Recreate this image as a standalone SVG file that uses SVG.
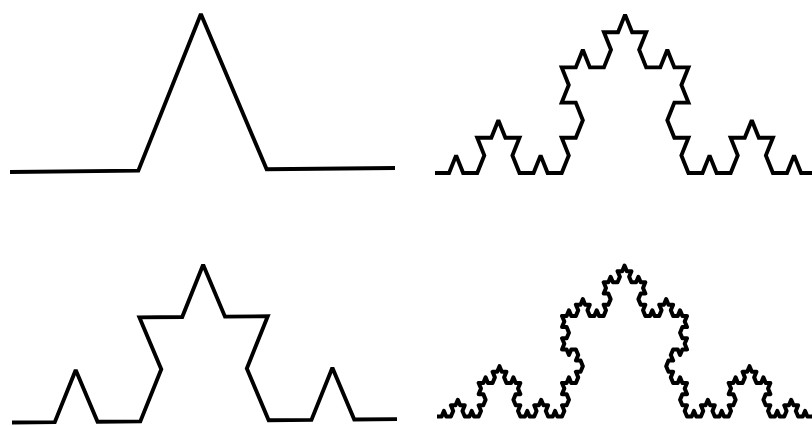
<svg xmlns="http://www.w3.org/2000/svg" width="812" height="426" viewBox="0 0 812 426">
<style>
.k{fill:none;stroke:#000;stroke-width:3.9;stroke-linejoin:miter;stroke-miterlimit:2;stroke-linecap:butt;vector-effect:non-scaling-stroke}
.k4{stroke-width:4;stroke-linejoin:round}
</style>
<rect width="812" height="426" fill="#fff"/>
<g id="koch-level1" transform="translate(10 172) rotate(-0.6) scale(64.17 156)">
<path class="k" d="M0 0 l2 0 1 -1 1 1 2 0"/>
</g>
<g id="koch-level2" transform="translate(12 422.5) rotate(-0.5) scale(21.39 52)">
<path class="k" d="M0 0 l2 0 1 -1 1 1 2 0 1 -1 -1 -1 2 0 1 -1 1 1 2 0 -1 1 1 1 2 0 1 -1 1 1 2 0"/>
</g>
<g id="koch-level3" transform="translate(435 173) scale(7.04 17.6)">
<path class="k" d="M0 0 l2 0 1 -1 1 1 2 0 1 -1 -1 -1 2 0 1 -1 1 1 2 0 -1 1 1 1 2 0 1 -1 1 1 2 0
1 -1 -1 -1 2 0 1 -1 -1 -1 -2 0 1 -1 -1 -1 2 0 1 -1 1 1 2 0 1 -1 -1 -1 2 0 1 -1
1 1 2 0 -1 1 1 1 2 0 1 -1 1 1 2 0 -1 1 1 1 -2 0 -1 1 1 1 2 0 -1 1 1 1
2 0 1 -1 1 1 2 0 1 -1 -1 -1 2 0 1 -1 1 1 2 0 -1 1 1 1 2 0 1 -1 1 1 2 0"/>
</g>
<g id="koch-level4" transform="translate(437 416.5) scale(2.315 5.59)">
<path class="k k4" d="M0 0 l2 0 1 -1 1 1 2 0 1 -1 -1 -1 2 0 1 -1 1 1 2 0 -1 1 1 1 2 0 1 -1 1 1 2 0
1 -1 -1 -1 2 0 1 -1 -1 -1 -2 0 1 -1 -1 -1 2 0 1 -1 1 1 2 0 1 -1 -1 -1 2 0 1 -1
1 1 2 0 -1 1 1 1 2 0 1 -1 1 1 2 0 -1 1 1 1 -2 0 -1 1 1 1 2 0 -1 1 1 1
2 0 1 -1 1 1 2 0 1 -1 -1 -1 2 0 1 -1 1 1 2 0 -1 1 1 1 2 0 1 -1 1 1 2 0
1 -1 -1 -1 2 0 1 -1 -1 -1 -2 0 1 -1 -1 -1 2 0 1 -1 1 1 2 0 1 -1 -1 -1 2 0 1 -1
-1 -1 -2 0 1 -1 -1 -1 -2 0 -1 1 -1 -1 -2 0 1 -1 -1 -1 2 0 1 -1 -1 -1 -2 0 1 -1 -1 -1
2 0 1 -1 1 1 2 0 1 -1 -1 -1 2 0 1 -1 1 1 2 0 -1 1 1 1 2 0 1 -1 1 1 2 0
1 -1 -1 -1 2 0 1 -1 -1 -1 -2 0 1 -1 -1 -1 2 0 1 -1 1 1 2 0 1 -1 -1 -1 2 0 1 -1
1 1 2 0 -1 1 1 1 2 0 1 -1 1 1 2 0 -1 1 1 1 -2 0 -1 1 1 1 2 0 -1 1 1 1
2 0 1 -1 1 1 2 0 1 -1 -1 -1 2 0 1 -1 1 1 2 0 -1 1 1 1 2 0 1 -1 1 1 2 0
-1 1 1 1 -2 0 -1 1 1 1 2 0 -1 1 1 1 -2 0 -1 1 -1 -1 -2 0 -1 1 1 1 -2 0 -1 1
1 1 2 0 -1 1 1 1 2 0 1 -1 1 1 2 0 -1 1 1 1 -2 0 -1 1 1 1 2 0 -1 1 1 1
2 0 1 -1 1 1 2 0 1 -1 -1 -1 2 0 1 -1 1 1 2 0 -1 1 1 1 2 0 1 -1 1 1 2 0
1 -1 -1 -1 2 0 1 -1 -1 -1 -2 0 1 -1 -1 -1 2 0 1 -1 1 1 2 0 1 -1 -1 -1 2 0 1 -1
1 1 2 0 -1 1 1 1 2 0 1 -1 1 1 2 0 -1 1 1 1 -2 0 -1 1 1 1 2 0 -1 1 1 1
2 0 1 -1 1 1 2 0 1 -1 -1 -1 2 0 1 -1 1 1 2 0 -1 1 1 1 2 0 1 -1 1 1 2 0"/>
</g>
</svg>
